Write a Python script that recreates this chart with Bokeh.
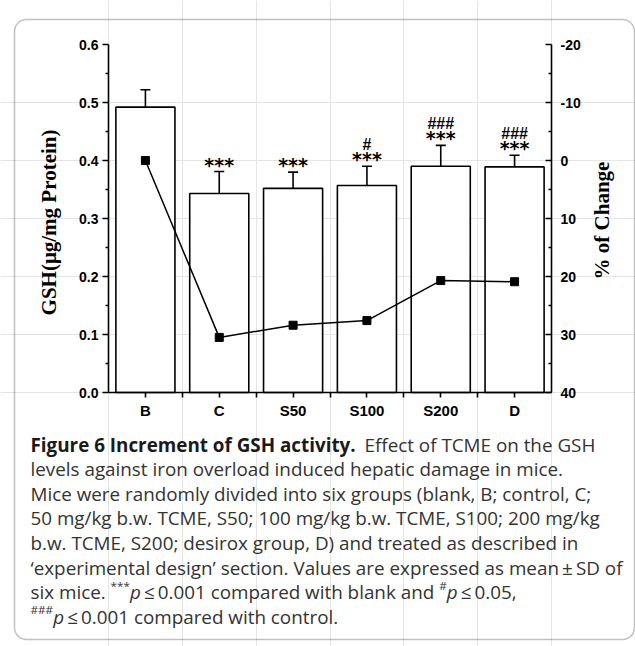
import math
import os
import struct
import subprocess

from bokeh.plotting import figure
from bokeh.models import (Range1d, LinearAxis, FixedTicker, NumeralTickFormatter,
                          Whisker, TeeHead, ColumnDataSource, Label, BoxAnnotation)
from bokeh.core.properties import value
from bokeh.embed import file_html
from bokeh.resources import INLINE

# ---------------- data ----------------
groups = ["B", "C", "S50", "S100", "S200", "D"]
gsh_mean = [0.492, 0.343, 0.352, 0.357, 0.390, 0.389]
gsh_sd = [0.030, 0.038, 0.028, 0.033, 0.036, 0.020]
pct_change = [0.0, 30.5, 28.4, 27.6, 20.7, 20.9]
sig_blank = ["", "***", "***", "***", "***", "***"]
sig_control = ["", "", "", "#", "###", "###"]
gsh_ticks = [0.0, 0.1, 0.2, 0.3, 0.4, 0.5, 0.6]
pct_ticks = [-20, -10, 0, 10, 20, 30, 40]

# ---------------- font metrics helper (for caption layout) ----------------
def _font_file(query):
    try:
        r = subprocess.run(["fc-match", "-f", "%{file}", query],
                           capture_output=True, text=True, timeout=10)
        f = r.stdout.strip()
        if f and os.path.exists(f):
            return f
    except Exception:
        pass
    return None


class FontMetrics:
    def __init__(self, path, bold_scale=1.0):
        self.ok = False
        self.scale = 1.0
        try:
            with open(path, "rb") as fh:
                data = fh.read()
            base = 0
            if data[:4] == b"ttcf":
                base = struct.unpack(">I", data[12:16])[0]
            num = struct.unpack(">H", data[base + 4:base + 6])[0]
            tables = {}
            for i in range(num):
                rec = base + 12 + 16 * i
                tag = data[rec:rec + 4].decode("latin1")
                off, ln = struct.unpack(">II", data[rec + 8:rec + 16])
                tables[tag] = off
            if "fvar" in tables:
                self.scale = bold_scale
            h = tables["head"]
            self.upem = struct.unpack(">H", data[h + 18:h + 20])[0]
            hh = tables["hhea"]
            nh = struct.unpack(">H", data[hh + 34:hh + 36])[0]
            hm = tables["hmtx"]
            self.adv = struct.unpack(">%dH" % (2 * nh), data[hm:hm + 4 * nh])[0::2]
            cm = tables["cmap"]
            n = struct.unpack(">H", data[cm + 2:cm + 4])[0]
            s4 = s12 = None
            for i in range(n):
                pid, eid, off = struct.unpack(">HHI", data[cm + 4 + 8 * i:cm + 12 + 8 * i])
                fmt = struct.unpack(">H", data[cm + off:cm + off + 2])[0]
                if fmt == 4 and s4 is None:
                    s4 = cm + off
                if fmt == 12 and s12 is None:
                    s12 = cm + off
            if s12 is not None:
                ng = struct.unpack(">I", data[s12 + 12:s12 + 16])[0]
                grps = [struct.unpack(">III", data[s12 + 16 + 12 * i:s12 + 28 + 12 * i]) for i in range(ng)]

                def gid(c):
                    for a, b, g in grps:
                        if a <= c <= b:
                            return g + c - a
                    return 0
            else:
                s = s4
                segx2 = struct.unpack(">H", data[s + 6:s + 8])[0]
                seg = segx2 // 2
                ends = struct.unpack(">%dH" % seg, data[s + 14:s + 14 + segx2])
                so = s + 16 + segx2
                starts = struct.unpack(">%dH" % seg, data[so:so + segx2])
                do = so + segx2
                deltas = struct.unpack(">%dH" % seg, data[do:do + segx2])
                ro = do + segx2
                ros = struct.unpack(">%dH" % seg, data[ro:ro + segx2])

                def gid(c):
                    for i in range(seg):
                        if starts[i] <= c <= ends[i]:
                            if ros[i] == 0:
                                return (c + deltas[i]) & 0xFFFF
                            addr = ro + 2 * i + ros[i] + 2 * (c - starts[i])
                            g = struct.unpack(">H", data[addr:addr + 2])[0]
                            return (g + deltas[i]) & 0xFFFF if g else 0
                    return 0
            self.gid = gid
            self.ok = True
        except Exception:
            self.ok = False

    def em(self, text):
        if not self.ok:
            return 0.53 * len(text)
        tot = 0
        for ch in text:
            g = self.gid(ord(ch))
            if g >= len(self.adv):
                g = len(self.adv) - 1
            tot += self.adv[g]
        return tot / self.upem * self.scale


def _metrics(query, bold_scale=1.0):
    f = _font_file(query)
    if f is None:
        return FontMetrics("/nonexistent")
    return FontMetrics(f, bold_scale)


CAP_FONT = "Open Sans"
M_REG = _metrics("Open Sans:style=Regular")
M_BOLD = _metrics("Open Sans:style=Bold", bold_scale=1.06)
M_IT = _metrics("Open Sans:style=Italic")

# ---------------- geometry (page pixels) ----------------
W, H = 635, 646
FL, FR, FT, FB = 108, 551, 44, 392     # where the plotting box sits on the page
NX = len(groups)
Y_LO, Y_HI = gsh_ticks[0], gsh_ticks[-1]
P_TOP, P_BOT = pct_ticks[0], pct_ticks[-1]


def dx(sx):
    return (sx - FL) / (FR - FL) * NX


def dy(sy):
    return Y_LO + (FB - sy) / (FB - FT) * (Y_HI - Y_LO)


def dp(sy):
    return P_TOP + (sy - FT) / (FB - FT) * (P_BOT - P_TOP)


# the frame fills the whole canvas; axes sit at fixed locations inside it
p = figure(width=W, height=H, output_backend="svg", toolbar_location=None, title=None,
           x_range=Range1d(dx(0), dx(W)), y_range=Range1d(dy(H), dy(0)),
           x_axis_location=None, y_axis_location=None,
           min_border=0, min_border_left=0, min_border_right=0,
           min_border_top=0, min_border_bottom=0)
p.outline_line_color = None
p.background_fill_color = "white"
p.border_fill_color = "white"
p.extra_y_ranges = {"pct": Range1d(start=dp(H), end=dp(0))}

xpos = [i + 0.5 for i in range(NX)]
upper = [m + s for m, s in zip(gsh_mean, gsh_sd)]
src = ColumnDataSource(dict(x=xpos, mean=gsh_mean, upper=upper, pct=pct_change,
                            sigb=sig_blank, sigc=sig_control))

# bars
p.vbar(x="x", top="mean", bottom=0, width=0.8, source=src,
       fill_color="white", line_color="black", line_width=1.6)
wh = Whisker(base="x", lower="mean", upper="upper", source=src, dimension="height",
             line_color="black", line_width=1.6, lower_head=None,
             upper_head=TeeHead(size=10, line_color="black", line_width=1.6))
p.add_layout(wh)

# % change line
p.line(x="x", y="pct", source=src, y_range_name="pct", line_color="black", line_width=1.5)
p.scatter(x="x", y="pct", source=src, y_range_name="pct", marker="square", size=8,
          fill_color="black", line_color="black")

# significance marks
p.text(x="x", y="upper", text="sigb", source=src, text_font=value("DejaVu Sans"),
       text_font_style="bold", text_font_size="19px", text_align="center",
       text_baseline="alphabetic", y_offset=-7, text_color="black")
p.text(x="x", y="upper", text="sigc", source=src, text_font=value("Liberation Sans"),
       text_font_style="bold", text_font_size="16px", text_align="center",
       text_baseline="alphabetic", y_offset=-22, text_color="black")

# axes
xax = LinearAxis(fixed_location=Y_LO, bounds=(0, NX),
                 ticker=FixedTicker(ticks=xpos, minor_ticks=list(range(1, NX))))
xax.major_label_overrides = {x: g for x, g in zip(xpos, groups)}
xax.major_tick_out = 5
xax.major_tick_in = 0
xax.minor_tick_out = 5
xax.minor_tick_in = 0
xax.major_label_standoff = 4
p.add_layout(xax, "below")

yax = LinearAxis(fixed_location=0, bounds=(Y_LO, Y_HI),
                 ticker=FixedTicker(ticks=gsh_ticks,
                                    minor_ticks=[(a + b) / 2 for a, b in zip(gsh_ticks[:-1], gsh_ticks[1:])]),
                 formatter=NumeralTickFormatter(format="0.0"))
yax.major_tick_out = 6
yax.major_tick_in = 0
yax.minor_tick_out = 3
yax.minor_tick_in = 0
yax.major_label_standoff = 4
p.add_layout(yax, "left")

rax = LinearAxis(y_range_name="pct", fixed_location=NX, bounds=(P_TOP, P_BOT),
                 ticker=FixedTicker(ticks=pct_ticks,
                                    minor_ticks=[(a + b) / 2 for a, b in zip(pct_ticks[:-1], pct_ticks[1:])]),
                 formatter=NumeralTickFormatter(format="0"))
rax.major_tick_in = 6
rax.major_tick_out = 0
rax.minor_tick_in = 3
rax.minor_tick_out = 0
rax.major_label_standoff = 9
p.add_layout(rax, "right")

for ax in (xax, yax, rax):
    ax.axis_line_width = 1.6
    ax.axis_line_color = "black"
    ax.major_tick_line_width = 1.6
    ax.minor_tick_line_width = 1.6
    ax.major_tick_line_color = "black"
    ax.minor_tick_line_color = "black"
    ax.major_label_text_font = "Liberation Sans"
    ax.major_label_text_font_style = "bold"
    ax.major_label_text_color = "black"
xax.major_label_text_font_size = "15px"
yax.major_label_text_font_size = "14px"
rax.major_label_text_font_size = "14px"

# axis titles
p.add_layout(Label(x=dx(48), y=dy(222), text="GSH(\u03bcg/mg Protein)", angle=math.pi / 2,
                   text_font="Liberation Serif", text_font_style="bold",
                   text_font_size="21px", text_align="center", text_baseline="middle",
                   text_color="black"))
p.add_layout(Label(x=dx(601), y=dy(220), text="% of Change", angle=math.pi / 2,
                   text_font="Liberation Serif", text_font_style="bold",
                   text_font_size="21px", text_align="center", text_baseline="middle",
                   text_color="black"))

# ---------------- caption ----------------
# (text, style, optional left anchor in page px)
caption = [
    [("Figure 6 Increment of GSH activity.", "b", None), ("Effect of TCME on the GSH", "r", 364)],
    [("levels against iron overload induced hepatic damage in mice.", "r", None)],
    [("Mice were randomly divided into six groups (blank, B; control, C;", "r", None)],
    [("50 mg/kg b.w. TCME, S50; 100 mg/kg b.w. TCME, S100; 200 mg/kg", "r", None)],
    [("b.w. TCME, S200; desirox group, D) and treated as described in", "r", None)],
    [("\u2018experimental design\u2019 section. Values are expressed as mean\u2009\u00b1\u2009SD of", "r", None)],
    [("six mice. ", "r", None), ("***", "s", None), ("p", "i", None),
     ("\u2009\u2264\u20090.001 compared with blank and ", "r", None),
     ("#", "s", None), ("p", "i", None), ("\u2009\u2264\u20090.05,", "r", None)],
    [("###", "s", None), ("p", "i", None), ("\u2009\u2264\u20090.001 compared with control.", "r", None)],
]
CAP_X = 30
line_right = {1: 562, 2: 599, 3: 600, 4: 566}
fits = sorted((line_right[k] - CAP_X) / max(M_REG.em(caption[k][0][0]), 1e-6) for k in line_right)
CAP_SIZE = (fits[1] + fits[2]) / 2
CAP_SIZE = max(14.0, min(19.5, CAP_SIZE))
SUP_SIZE = CAP_SIZE * 0.62
CAP_BASE = 444
CAP_STEP = 24.6

styles = {
    "r": (M_REG, "normal", CAP_SIZE, 0, "#333333"),
    "b": (M_BOLD, "bold", CAP_SIZE, 0, "#1a1a1a"),
    "i": (M_IT, "italic", CAP_SIZE, 0, "#333333"),
    "s": (M_REG, "normal", SUP_SIZE, 7, "#333333"),
}

for li, pieces in enumerate(caption):
    base = CAP_BASE + li * CAP_STEP
    x = CAP_X
    for txt, kind, anchor in pieces:
        m, fstyle, size, raise_px, col = styles[kind]
        if anchor is not None:
            x = anchor
        p.add_layout(Label(x=dx(x), y=dy(base - raise_px), text=txt, text_font=CAP_FONT,
                           text_font_style=fstyle, text_font_size="%.2fpx" % size,
                           text_align="left", text_baseline="alphabetic", text_color=col))
        x += m.em(txt) * size

# rounded frame around the figure
p.add_layout(BoxAnnotation(left=dx(14), right=dx(634), top=dy(19), bottom=dy(639),
                           fill_alpha=0, fill_color=None, line_color="#333333",
                           line_width=1.5, border_radius=12, level="overlay"))

open("out.html", "w").write(file_html(p, INLINE))
